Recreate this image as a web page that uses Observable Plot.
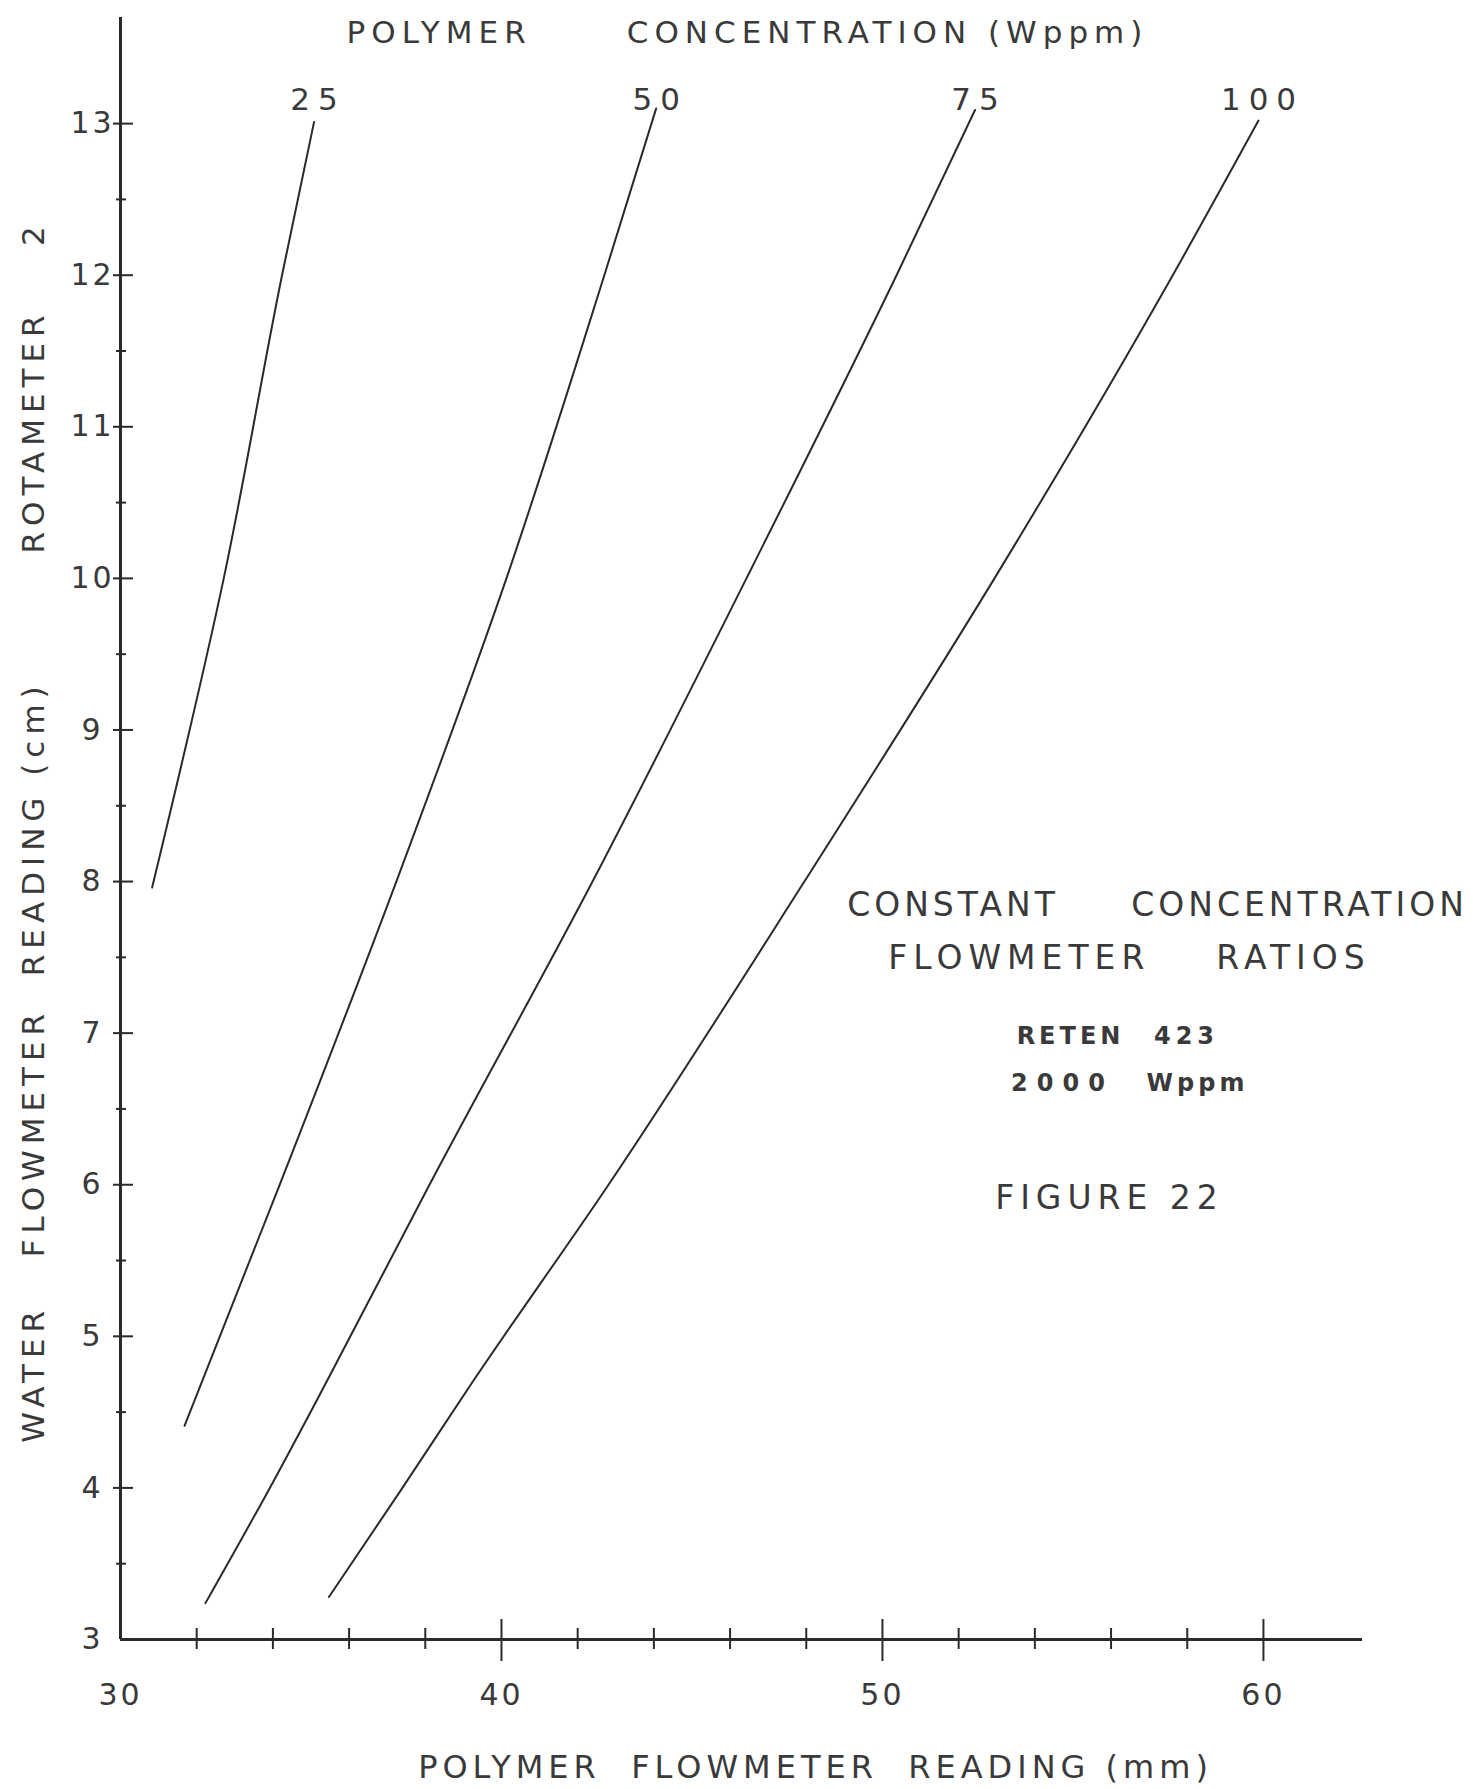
<!DOCTYPE html>
<html>
<head>
<meta charset="utf-8">
<script src="https://cdn.jsdelivr.net/npm/d3@7"></script>
<script src="https://cdn.jsdelivr.net/npm/@observablehq/plot@0.6"></script>
<style>
html, body { margin: 0; padding: 0; background: #ffffff; }
#chart svg text { white-space: pre; letter-spacing: 3px; }
#chart svg text[aria-label="ls4"] { letter-spacing: 4px; }
#chart svg text[aria-label="ls5"] { letter-spacing: 5px; }
#chart svg text[aria-label="ls6"] { letter-spacing: 6px; }
#chart svg text[aria-label="ls8"] { letter-spacing: 8px; }
#chart svg text[aria-label="ls9"] { letter-spacing: 9px; }
</style>
</head>
<body>
<div id="chart"></div>
<script>
// ---- data ----
const concentrations = ["25", "50", "75", "100"];
const series25  = [[30.83, 7.96], [32.71, 10.0], [34.24, 12.0], [35.08, 13.01]];
const series50  = [[31.68, 4.41], [34.18, 6.0], [37.24, 8.0], [40.13, 10.0], [42.70, 12.0], [44.06, 13.10]];
const series75  = [[32.23, 3.24], [33.92, 4.0], [35.43, 4.71], [38.11, 6.0], [42.39, 8.0], [46.43, 10.0], [50.37, 12.0], [52.43, 13.09]];
const series100 = [[35.47, 3.28], [37.40, 4.0], [39.27, 4.71], [42.81, 6.0], [47.95, 8.0], [52.94, 10.0], [57.62, 12.0], [59.87, 13.02]];

const xTickLabels = [30, 40, 50, 60];
const xMajorTicks = [40, 50, 60];
const xMinorTicks = [32, 34, 36, 38, 42, 44, 46, 48, 52, 54, 56, 58];
const yTickLabels = [3, 4, 5, 6, 7, 8, 9, 10, 11, 12, 13];
const yMajorTicks = [4, 5, 6, 7, 8, 9, 10, 11, 12, 13];
const yMinorTicks = [3.5, 4.5, 5.5, 6.5, 7.5, 8.5, 9.5, 10.5, 11.5, 12.5];
const xDomain = [30, 62.6];
const yDomain = [3, 13.7];

// ---- tables built from the arrays ----
const allSeries = [series25, series50, series75, series100];
const rows = allSeries.flatMap((s, i) => s.map(([x, y]) => ({c: concentrations[i], x, y})));
const topPoints = allSeries.map((s, i) => ({c: concentrations[i], x: s[s.length - 1][0], y: s[s.length - 1][1]}));

const ink = "#2a2a2a";
const textInk = "#3a3a3a";
const noText = () => "";
const intFormat = d3.format("d");
const spaced = (n) => () => "ls" + n; // tags each text element for the letter-spacing CSS
const note = {frameAnchor: "top-left", textAnchor: "middle", lineAnchor: "middle", fill: textInk};

const chart = Plot.plot({
  width: 1476,
  height: 1789,
  marginLeft: 120,
  marginRight: 114,
  marginTop: 17,
  marginBottom: 150,
  x: {domain: xDomain},
  y: {domain: yDomain},
  style: {fontFamily: "'DejaVu Sans', sans-serif", color: textInk, background: "#ffffff"},
  marks: [
    // axis lines
    Plot.ruleX([xDomain[0]], {y1: yDomain[0], y2: yDomain[1], stroke: ink, strokeWidth: 3}),
    Plot.ruleY([yDomain[0]], {x1: xDomain[0], x2: xDomain[1], stroke: ink, strokeWidth: 3}),
    // y ticks crossing the axis
    Plot.axisY(yMajorTicks, {anchor: "left", tickSize: 20, dx: 13, stroke: ink, strokeWidth: 2, tickFormat: noText, label: null}),
    Plot.axisY(yMinorTicks, {anchor: "left", tickSize: 10, dx: 6, stroke: ink, strokeWidth: 2, tickFormat: noText, label: null}),
    // x ticks crossing the axis
    Plot.axisX(xMajorTicks, {anchor: "bottom", tickSize: 42, dy: -20, stroke: ink, strokeWidth: 2, tickFormat: noText, label: null}),
    Plot.axisX(xMinorTicks, {anchor: "bottom", tickSize: 21, dy: -11, stroke: ink, strokeWidth: 2, tickFormat: noText, label: null}),
    // tick labels
    Plot.axisY(yTickLabels, {anchor: "left", tickSize: 0, tickPadding: 28, textAnchor: "middle", fontSize: 30, fill: textInk, tickFormat: intFormat, label: null}),
    Plot.axisX(xTickLabels, {anchor: "bottom", tickSize: 0, tickPadding: 44, fontSize: 30, fill: textInk, tickFormat: intFormat, label: null}),
    // concentration lines
    Plot.line(rows, {x: "x", y: "y", z: "c", stroke: ink, strokeWidth: 2, curve: "monotone-y"}),
    // line labels
    Plot.text(topPoints, {x: "x", text: "c", frameAnchor: "top", lineAnchor: "middle", dx: 4, dy: 83, fontSize: 31, fill: textInk, ariaLabel: spaced(8)}),
    // titles and annotations
    Plot.text(["POLYMER      CONCENTRATION (Wppm)"], {...note, dx: 627, dy: 16, fontSize: 31, ariaLabel: spaced(6)}),
    Plot.text(["WATER   FLOWMETER  READING (cm)        ROTAMETER    2"], {...note, dx: -86, dy: 814, rotate: -90, fontSize: 31, ariaLabel: spaced(6)}),
    Plot.text(["POLYMER  FLOWMETER  READING (mm)"], {...note, dx: 695, dy: 1750, fontSize: 32, ariaLabel: spaced(5)}),
    Plot.text(["CONSTANT     CONCENTRATION"], {...note, dx: 1037, dy: 888, fontSize: 33, ariaLabel: spaced(4)}),
    Plot.text(["FLOWMETER    RATIOS"], {...note, dx: 1009, dy: 941, fontSize: 33, ariaLabel: spaced(6)}),
    Plot.text(["RETEN"], {...note, dx: 950, dy: 1019, fontSize: 24, fontWeight: "bold", ariaLabel: spaced(4)}),
    Plot.text(["423"], {...note, dx: 1066, dy: 1019, fontSize: 24, fontWeight: "bold", ariaLabel: spaced(5)}),
    Plot.text(["2000"], {...note, dx: 942, dy: 1066, fontSize: 24, fontWeight: "bold", ariaLabel: spaced(9)}),
    Plot.text(["Wppm"], {...note, dx: 1077, dy: 1066, fontSize: 24, fontWeight: "bold", ariaLabel: spaced(4)}),
    Plot.text(["FIGURE 22"], {...note, dx: 989, dy: 1181, fontSize: 33, ariaLabel: spaced(6)})
  ]
});
document.getElementById("chart").appendChild(chart);
</script>
</body>
</html>
